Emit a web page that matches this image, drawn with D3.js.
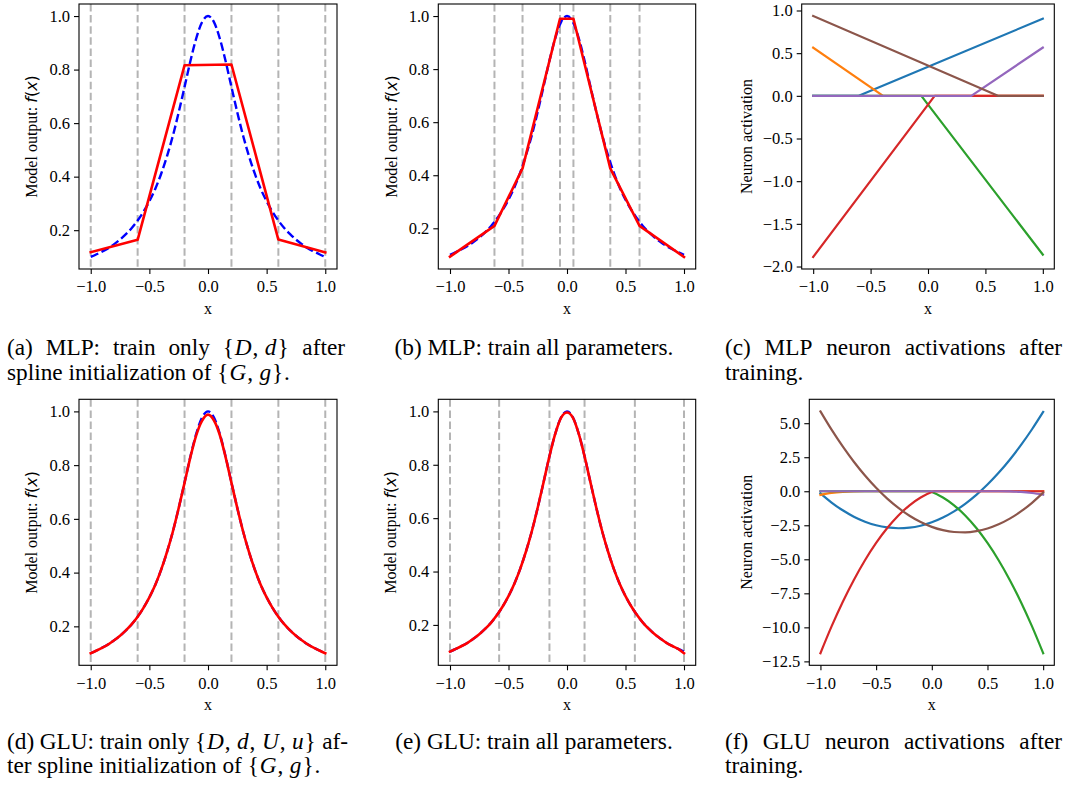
<!DOCTYPE html>
<html>
<head>
<meta charset="utf-8">
<script src="https://cdn.jsdelivr.net/npm/d3@7"></script>
<style>
  body { margin: 0; background: #fff; }
  svg { display: block; }
  text { font-family: "Liberation Serif", "Times New Roman", serif; fill: #000; }
</style>
</head>
<body>
<svg id="fig" width="1069" height="786"></svg>
<script>
// ---------- data ----------
// sample grid for the smooth curves
const xFine = [-1.00,-0.95,-0.90,-0.85,-0.80,-0.75,-0.70,-0.65,-0.60,-0.55,-0.50,-0.45,-0.40,-0.35,-0.30,-0.25,-0.20,-0.15,-0.10,-0.05,
               0.00,0.05,0.10,0.15,0.20,0.25,0.30,0.35,0.40,0.45,0.50,0.55,0.60,0.65,0.70,0.75,0.80,0.85,0.90,0.95,1.00];
// target function (blue dashed)
const targetY = [0.100,0.110,0.121,0.133,0.148,0.165,0.185,0.208,0.236,0.269,0.308,0.354,0.410,0.476,0.552,0.640,0.735,0.832,0.917,0.978,
                 1.000,0.978,0.917,0.832,0.735,0.640,0.552,0.476,0.410,0.354,0.308,0.269,0.236,0.208,0.185,0.165,0.148,0.133,0.121,0.110,0.100];

// (a) MLP, only {D,d} trained: piecewise linear output
const mlpSplineKnots = [-1, -0.6, -0.2, 0.2, 0.6, 1];
const mlpSplineY     = [0.118, 0.164, 0.816, 0.819, 0.165, 0.117];

// (b) MLP, all parameters trained
const mlpFullKnots = [-0.62, -0.38, -0.06, 0.055, 0.37, 0.62];
const mlpFullX     = [-1, -0.62, -0.38, -0.06, 0.055, 0.37, 0.62, 1];
const mlpFullY     = [0.093, 0.209, 0.426, 0.990, 0.990, 0.426, 0.209, 0.092];

// (c) MLP neuron activations (ReLU ramps)
const mlpNeuronX = [[-1, -0.603, 1], [-1, -0.391, 1], [-1, -0.058, 1], [-1, 0.058, 1], [-1, 0.377, 1], [-1, 0.609, 1]];
const mlpNeuronY = [[0, 0, 0.904], [0.565, 0, 0], [0, 0, -1.861], [-1.888, 0, 0], [0, 0, 0.565], [0.935, 0, 0]];

// (d) GLU, only {D,d,U,u} trained
const gluSplineKnots = [-1, -0.6, -0.2, 0.2, 0.6, 1];
const gluSplineY = [0.100,0.110,0.121,0.133,0.148,0.165,0.185,0.208,0.236,0.269,0.308,0.354,0.410,0.476,0.552,0.640,0.734,0.830,0.912,0.966,
                    0.988,0.967,0.913,0.830,0.734,0.640,0.552,0.476,0.410,0.354,0.308,0.269,0.236,0.208,0.185,0.165,0.148,0.133,0.121,0.110,0.100];

// (e) GLU, all parameters trained
const gluFullKnots = [-1, -0.58, -0.15, 0.15, 0.58, 1];
const gluFullY = [0.100,0.110,0.121,0.133,0.148,0.165,0.185,0.208,0.236,0.269,0.308,0.354,0.410,0.476,0.552,0.640,0.735,0.832,0.917,0.977,
                  0.996,0.977,0.917,0.832,0.735,0.640,0.552,0.476,0.410,0.354,0.308,0.269,0.236,0.208,0.185,0.165,0.148,0.133,0.121,0.110,0.094];

// (f) GLU neuron activations
const xCoarse = [-1.0,-0.9,-0.8,-0.7,-0.6,-0.5,-0.4,-0.3,-0.2,-0.1,0.0,0.1,0.2,0.3,0.4,0.5,0.6,0.7,0.8,0.9,1.0];
const gluBlueY   = [-0.153,-0.827,-1.399,-1.868,-2.234,-2.499,-2.660,-2.720,-2.677,-2.531,-2.283,-1.933,-1.481,-0.926,-0.268,0.492,1.354,2.318,3.385,4.555,5.827];
const gluOrangeY = [-0.27,-0.12,-0.04,-0.005,0,0,0,0,0,0,0,0,0,0,0,0,0,0,0,0,0];
const gluGreenX  = [-1.0,-0.5,-0.02,0.0,0.1,0.2,0.3,0.4,0.5,0.6,0.7,0.8,0.9,1.0];
const gluGreenY  = [0,0,0,-0.059,-0.458,-1.032,-1.780,-2.703,-3.800,-5.071,-6.517,-8.137,-9.932,-11.90];
const gluRedX    = [-1.0,-0.9,-0.8,-0.7,-0.6,-0.5,-0.4,-0.3,-0.2,-0.1,0.0,0.02,0.5,1.0];
const gluRedY    = [-11.90,-9.932,-8.137,-6.517,-5.071,-3.800,-2.703,-1.780,-1.032,-0.458,-0.059,0,0,0];
const gluPurpleY = [0,0,0,0,0,0,0,0,0,0,0,0,0,0,0,0,0,-0.01,-0.05,-0.13,-0.25];
const gluBrownY  = [5.868,4.525,3.291,2.168,1.154,0.251,-0.543,-1.227,-1.800,-2.264,-2.617,-2.861,-2.994,-3.018,-2.931,-2.735,-2.428,-2.012,-1.485,-0.849,-0.102];

// tick values
const xTicks = [-1.0, -0.5, 0.0, 0.5, 1.0];
const outputTicks = [0.2, 0.4, 0.6, 0.8, 1.0];
const mlpActTicks = [-2.0, -1.5, -1.0, -0.5, 0.0, 0.5, 1.0];
const gluActTicks = [-12.5, -10.0, -7.5, -5.0, -2.5, 0.0, 2.5, 5.0];

const tab10 = ["#1f77b4", "#ff7f0e", "#2ca02c", "#d62728", "#9467bd", "#8c564b"];

// ---------- drawing ----------
const svg = d3.select("#fig");
const fmt = d3.format(".1f");
const TICK_FS = 16.5;
const LABEL_FS = 16;

function padDomain(ext) {
  const r = ext[1] - ext[0];
  return [ext[0] - 0.05 * r, ext[1] + 0.05 * r];
}

function drawPanel(box, series, yTicks, ylabel, knots) {
  const g = svg.append("g");
  const x = d3.scaleLinear().domain(padDomain([-1, 1])).range([box.x0, box.x1]);
  const y = d3.scaleLinear().domain(padDomain(d3.extent(series.flatMap(s => s.y)))).range([box.y1, box.y0]);

  const clipId = "clip-" + box.id;
  svg.append("clipPath").attr("id", clipId).append("rect")
    .attr("x", box.x0).attr("y", box.y0).attr("width", box.x1 - box.x0).attr("height", box.y1 - box.y0);
  const plot = g.append("g").attr("clip-path", `url(#${clipId})`);

  if (knots) {
    plot.selectAll("line.knot").data(knots).join("line")
      .attr("class", "knot")
      .attr("x1", d => x(d)).attr("x2", d => x(d))
      .attr("y1", box.y0).attr("y2", box.y1)
      .attr("stroke", "#b4b4b4").attr("stroke-width", 2)
      .attr("stroke-dasharray", "7.5,3.6");
  }

  series.forEach(s => {
    const line = d3.line()
      .x((d, i) => x(s.x[i]))
      .y(d => y(d))
      .curve(s.curve || d3.curveLinear);
    plot.append("path").datum(s.y)
      .attr("d", line)
      .attr("fill", "none")
      .attr("stroke", s.color)
      .attr("stroke-width", s.width)
      .attr("stroke-dasharray", s.dash || null)
      .attr("stroke-linejoin", "round")
      .attr("stroke-linecap", s.dash ? "butt" : "square");
  });

  const xa = g.append("g").attr("transform", `translate(0,${box.y1})`)
    .call(d3.axisBottom(x).tickValues(xTicks).tickFormat(fmt).tickSize(5).tickPadding(6.5));
  const ya = g.append("g").attr("transform", `translate(${box.x0},0)`)
    .call(d3.axisLeft(y).tickValues(yTicks).tickFormat(fmt).tickSize(5).tickPadding(4));
  [xa, ya].forEach(a => {
    a.select(".domain").remove();
    a.attr("font-family", null).attr("font-size", null);
    a.selectAll("text").attr("font-size", TICK_FS);
    a.selectAll("line").attr("stroke", "#000").attr("stroke-width", 1.1);
  });

  g.append("rect")
    .attr("x", box.x0).attr("y", box.y0)
    .attr("width", box.x1 - box.x0).attr("height", box.y1 - box.y0)
    .attr("fill", "none").attr("stroke", "#000").attr("stroke-width", 1.1);

  g.append("text")
    .attr("x", (box.x0 + box.x1) / 2).attr("y", box.y1 + 45)
    .attr("text-anchor", "middle").attr("font-size", LABEL_FS).text("x");

  const yl = g.append("text")
    .attr("transform", `translate(${box.ylx},${(box.y0 + box.y1) / 2}) rotate(-90)`)
    .attr("text-anchor", "middle").attr("dy", "0.35em")
    .attr("font-size", LABEL_FS).style("white-space", "pre");
  if (ylabel === "output") {
    yl.append("tspan").text("Model output: ");
    const mathFont = "DejaVu Sans";
    yl.append("tspan").attr("font-family", mathFont).attr("font-style", "italic").text("f");
    yl.append("tspan").attr("font-family", mathFont).text("(");
    yl.append("tspan").attr("font-family", mathFont).attr("font-style", "italic").text("x");
    yl.append("tspan").attr("font-family", mathFont).text(")");
  } else {
    yl.text(ylabel);
  }
}

const targetSeries = { x: xFine, y: targetY, color: "#0000ff", width: 2.4, dash: "8.3,3.6", curve: d3.curveMonotoneX };

drawPanel({ id: "a", x0: 79, x1: 337, y0: 4, y1: 269, ylx: 31.7 },
  [targetSeries, { x: mlpSplineKnots, y: mlpSplineY, color: "#ff0000", width: 2.6 }],
  outputTicks, "output", mlpSplineKnots);

drawPanel({ id: "b", x0: 438.3, x1: 695.7, y0: 4, y1: 269, ylx: 391.5 },
  [targetSeries, { x: mlpFullX, y: mlpFullY, color: "#ff0000", width: 2.6 }],
  outputTicks, "output", mlpFullKnots);

drawPanel({ id: "c", x0: 801.7, x1: 1054.3, y0: 4, y1: 269, ylx: 746.7 },
  mlpNeuronY.map((ys, i) => ({ x: mlpNeuronX[i], y: ys, color: tab10[i], width: 2.2 })),
  mlpActTicks, "Neuron activation", null);

drawPanel({ id: "d", x0: 79, x1: 337, y0: 399.3, y1: 665.3, ylx: 31.7 },
  [targetSeries, { x: xFine, y: gluSplineY, color: "#ff0000", width: 2.6, curve: d3.curveMonotoneX }],
  outputTicks, "output", gluSplineKnots);

drawPanel({ id: "e", x0: 438.3, x1: 695.7, y0: 399.3, y1: 665.3, ylx: 390.5 },
  [targetSeries, { x: xFine, y: gluFullY, color: "#ff0000", width: 2.6, curve: d3.curveMonotoneX }],
  outputTicks, "output", gluFullKnots);

drawPanel({ id: "f", x0: 809.3, x1: 1054.3, y0: 399.3, y1: 665.3, ylx: 746.7 },
  [
    { x: xCoarse, y: gluBlueY, color: tab10[0], width: 2.2, curve: d3.curveMonotoneX },
    { x: xCoarse, y: gluOrangeY, color: tab10[1], width: 2.2, curve: d3.curveMonotoneX },
    { x: gluGreenX, y: gluGreenY, color: tab10[2], width: 2.2, curve: d3.curveMonotoneX },
    { x: gluRedX, y: gluRedY, color: tab10[3], width: 2.2, curve: d3.curveMonotoneX },
    { x: xCoarse, y: gluPurpleY, color: tab10[4], width: 2.2, curve: d3.curveMonotoneX },
    { x: xCoarse, y: gluBrownY, color: tab10[5], width: 2.2, curve: d3.curveMonotoneX }
  ],
  gluActTicks, "Neuron activation", null);

// ---------- sub-captions ----------
// words separated by spaces; *...* marks math italic; \u2009 is a fixed thin space
const CAP_FS = 23.3;
const captionLines = [
  { text: "(a) MLP: train only {*D*,\u2009*d*} after", x: 7, w: 338, y: 355, mode: "justify" },
  { text: "spline initialization of {*G*,\u2009*g*}.", x: 7, y: 379.5, mode: "left" },
  { text: "(b) MLP: train all parameters.", x: 534, y: 355, mode: "center" },
  { text: "(c) MLP neuron activations after", x: 725, w: 337, y: 355, mode: "justify" },
  { text: "training.", x: 725, y: 379.5, mode: "left" },
  { text: "(d) GLU: train only {*D*,\u2009*d*,\u2009*U*,\u2009*u*} af-", x: 7, w: 341, y: 748.5, mode: "justify" },
  { text: "ter spline initialization of {*G*,\u2009*g*}.", x: 7, y: 773, mode: "left" },
  { text: "(e) GLU: train all parameters.", x: 534, y: 748.5, mode: "center" },
  { text: "(f) GLU neuron activations after", x: 725, w: 337, y: 748.5, mode: "justify" },
  { text: "training.", x: 725, y: 773, mode: "left" }
];

const capG = svg.append("g").attr("font-size", CAP_FS);
captionLines.forEach(line => {
  const words = line.text.split(" ");
  const nodes = words.map(w => {
    const t = capG.append("text").attr("y", line.y).style("white-space", "pre");
    // set-notation groups are typeset a little looser, like math mode
    if (w.includes("{")) t.style("letter-spacing", "0.9px");
    w.split("*").forEach((seg, i) => {
      if (seg.length) t.append("tspan").attr("font-style", i % 2 ? "italic" : null).text(seg);
    });
    return t;
  });
  const widths = nodes.map(n => n.node().getComputedTextLength());
  const total = d3.sum(widths);
  const space = 0.25 * CAP_FS;
  let gap = space, start = line.x;
  if (line.mode === "justify") gap = (line.w - total) / (words.length - 1);
  if (line.mode === "center") start = line.x - (total + space * (words.length - 1)) / 2;
  let cx = start;
  nodes.forEach((n, i) => { n.attr("x", cx); cx += widths[i] + gap; });
});
</script>
</body>
</html>
